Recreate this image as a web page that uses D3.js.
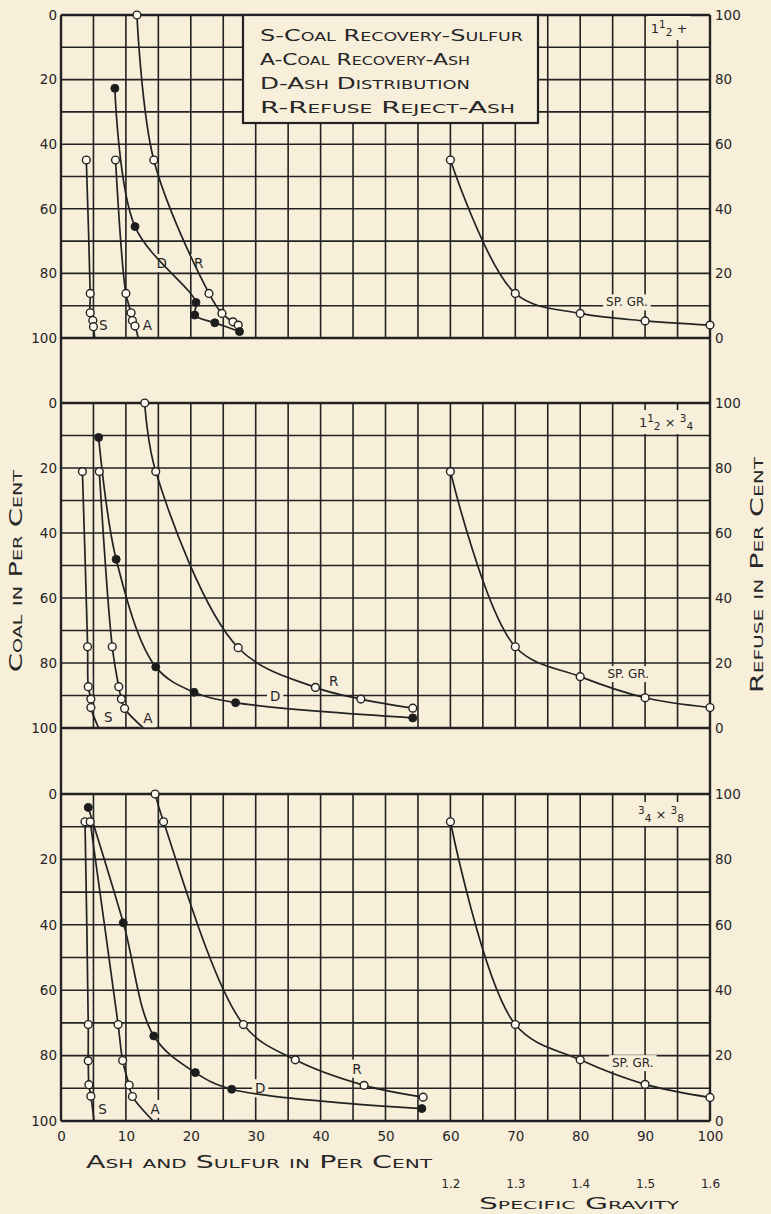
<!DOCTYPE html>
<html><head><meta charset="utf-8">
<script src="https://cdn.jsdelivr.net/npm/d3@7"></script>
<style>
body{margin:0;background:#f8efdb}
text{font-family:"DejaVu Sans",sans-serif;fill:#262626}
.sc{font-variant:small-caps}
</style>
</head><body>
<svg id="c" width="771" height="1214"></svg>
<script>
// ---------------- DATA ----------------
const ashTicks = [0,10,20,30,40,50,60,70,80,90,100];
const coalTicks = [0,20,40,60,80,100];
const refuseTicks = [0,20,40,60,80,100];
const sgTicks = [1.2,1.3,1.4,1.5,1.6];
const legendLines = ["S-Coal Recovery-Sulfur","A-Coal Recovery-Ash","D-Ash Distribution","R-Refuse Reject-Ash"];

// Panel 1 : 1½" +     [ash or sulfur %, coal %]
const p1S = [[3.9,44.9],[4.5,86.2],[4.5,92.2],[4.9,94.6],[5.0,96.5],[5.2,100]];
const p1A = [[8.4,44.9],[10.0,86.2],[10.8,92.2],[11.0,94.6],[11.4,96.3],[11.9,100]];
const p1D = [[8.3,22.7],[11.4,65.5],[20.8,89.0],[20.6,92.9],[23.7,95.3],[27.5,98.0]];
const p1R = [[11.7,0],[14.3,44.9],[22.8,86.2],[24.8,92.4],[26.5,95.0],[27.3,96.0]];
const p1SG = [55.1,13.8,7.6,5.3,4.0];   // refuse % at sg 1.2..1.6

// Panel 2 : 1½" x ¾"
const p2S = [[3.3,21.1],[4.1,75.0],[4.2,87.3],[4.6,91.1],[4.6,93.7],[5.8,100]];
const p2A = [[5.9,21.1],[7.9,75.0],[8.9,87.3],[9.3,91.1],[9.8,94.0],[12.7,100]];
const p2D = [[5.8,10.6],[8.5,48.1],[14.6,81.2],[20.5,89.0],[26.9,92.2],[54.2,96.9]];
const p2R = [[12.9,0],[14.6,21.1],[27.3,75.3],[39.2,87.5],[46.2,91.1],[54.2,93.9]];
const p2SG = [78.9,25.0,15.8,9.3,6.3];

// Panel 3 : ¾" x ⅜"
const p3S = [[3.7,8.5],[4.2,70.5],[4.2,81.6],[4.3,88.9],[4.6,92.4],[5.1,100]];
const p3A = [[4.5,8.5],[8.8,70.5],[9.5,81.5],[10.5,89.0],[11.0,92.5],[14.2,100]];
const p3D = [[4.2,4.1],[9.6,39.4],[14.3,74.0],[20.7,85.2],[26.3,90.3],[55.6,96.2]];
const p3R = [[14.5,0],[15.8,8.5],[28.1,70.5],[36.1,81.3],[46.7,89.1],[55.8,92.7]];
const p3SG = [91.5,29.5,18.7,11.2,7.2];

// size titles: [text, shift] shift -1 = superscript, 1 = subscript
const p1Title = [["1",0],["1",-1],["2",1],[" +",0]];
const p2Title = [["1",0],["1",-1],["2",1],[" × ",0],["3",-1],["4",1]];
const p3Title = [["3",-1],["4",1],[" × ",0],["3",-1],["8",1]];

// curve label anchors [ash %, coal %]
const p1Labels = {S:[6.5,96],A:[13.3,96],D:[15.5,76.8],R:[21.2,76.8],SG:[87.2,11]};
const p2Labels = {S:[7.3,96.5],A:[13.4,97],D:[33,90],R:[42,85.6],SG:[87.4,16.6]};
const p3Labels = {S:[6.4,96.3],A:[14.5,96.3],D:[30.7,90],R:[45.6,84],SG:[88.1,17.7]};

// ---------------- DRAW ----------------
const BG = "#f8efdb", INK = "#222";
const svg = d3.select("#c");
svg.append("rect").attr("width",771).attr("height",1214).attr("fill",BG);

const x = d3.scaleLinear().domain([0,100]).range([61,710]);
const sg = d3.scaleLinear().domain([1.2,1.6]).range([x(60),x(100)]);

const panels = [
  {top:15, bottom:338, S:p1S, A:p1A, D:p1D, R:p1R, SG:p1SG, title:p1Title, tpos:[669,28], lab:p1Labels},
  {top:403,bottom:728, S:p2S, A:p2A, D:p2D, R:p2R, SG:p2SG, title:p2Title, tpos:[666,422], lab:p2Labels},
  {top:794,bottom:1121,S:p3S, A:p3A, D:p3D, R:p3R, SG:p3SG, title:p3Title, tpos:[661,814], lab:p3Labels}
];

// outer continuous frame sides
svg.append("line").attr("x1",x(0)).attr("x2",x(0)).attr("y1",15).attr("y2",1121).attr("stroke",INK).attr("stroke-width",2.4);
svg.append("line").attr("x1",x(100)).attr("x2",x(100)).attr("y1",15).attr("y2",1121).attr("stroke",INK).attr("stroke-width",2.4);

function bgLabel(g, px, py, txt, size, cls){
  const t = g.append("text").attr("x",px).attr("y",py).attr("text-anchor","middle")
    .attr("dominant-baseline","central").attr("font-size",size).attr("class",cls||null).text(txt);
  const b = t.node().getBBox();
  g.insert("rect","text").attr("x",b.x-3).attr("y",b.y-1).attr("width",b.width+6).attr("height",b.height+2).attr("fill",BG);
  return t;
}

panels.forEach((p,i)=>{
  const g = svg.append("g");
  const y = d3.scaleLinear().domain([0,100]).range([p.top,p.bottom]);
  const yr = d3.scaleLinear().domain([0,100]).range([p.bottom,p.top]);

  // grid
  const grid = g.append("g");
  grid.selectAll("line.v").data(d3.range(5,100,5)).join("line").attr("class","v")
    .attr("x1",d=>x(d)).attr("x2",d=>x(d)).attr("y1",p.top).attr("y2",p.bottom)
    .attr("stroke",INK).attr("stroke-width",1.6);
  grid.selectAll("line.h").data(d3.range(10,100,10)).join("line").attr("class","h")
    .attr("x1",x(0)).attr("x2",x(100)).attr("y1",d=>y(d)).attr("y2",d=>y(d))
    .attr("stroke",INK).attr("stroke-width",1.6);
  grid.selectAll("line.b").data([0,100]).join("line").attr("class","b")
    .attr("x1",x(0)).attr("x2",x(100)).attr("y1",d=>y(d)).attr("y2",d=>y(d))
    .attr("stroke",INK).attr("stroke-width",2.6);

  // axes labels (left coal, right refuse)
  const la = g.append("g").attr("transform",`translate(${x(0)-4},0)`)
    .call(d3.axisLeft(y).tickValues(coalTicks).tickSize(0).tickPadding(0));
  const ra = g.append("g").attr("transform",`translate(${x(100)+5},0)`)
    .call(d3.axisRight(yr).tickValues(refuseTicks).tickSize(0).tickPadding(0));
  [la,ra].forEach(a=>{a.select(".domain").remove();
    a.selectAll("text").attr("font-size",13.5).attr("font-family","DejaVu Sans").attr("fill","#262626");});

  // labels with background masks
  const lg = g.append("g");
  const L = p.lab;
  ["S","A","D","R"].forEach(k=>{
    bgLabel(lg, x(L[k][0]), y(L[k][1]), k, 13.5, "sc");
  });
  bgLabel(lg, x(L.SG[0]), yr(L.SG[1]), "SP. GR.", 12);

  // panel title
  const tt = lg.append("text").attr("x",p.tpos[0]).attr("y",p.tpos[1]).attr("text-anchor","middle")
    .attr("dominant-baseline","central").attr("font-size",13);
  let prev = 0;
  p.title.forEach(([s,sh])=>{
    const dy = (sh-prev)*4;
    tt.append("tspan").attr("dy",dy).attr("font-size",sh===0?13:10.5).text(s);
    prev = sh;
  });
  const tb = tt.node().getBBox();
  lg.insert("rect","text").attr("x",tb.x-3).attr("y",tb.y-2).attr("width",tb.width+6).attr("height",tb.height+4).attr("fill",BG);

  // curves
  const line = d3.line().x(d=>x(d[0])).y(d=>y(d[1])).curve(d3.curveCatmullRom.alpha(0.5));
  const cg = g.append("g").attr("fill","none").attr("stroke",INK).attr("stroke-width",1.7);
  ["S","A","D","R"].forEach(k=>cg.append("path").attr("d",line(p[k])));
  const sgData = sgTicks.map((s,j)=>[s,p.SG[j]]);
  const sgLine = d3.line().x(d=>sg(d[0])).y(d=>yr(d[1])).curve(d3.curveCatmullRom.alpha(0.5));
  cg.append("path").attr("d",sgLine(sgData));

  // markers
  const mg = g.append("g");
  const openPts = [...p.S.slice(0,-1), ...p.A.slice(0,-1), ...p.R];
  mg.selectAll("circle.o").data(openPts).join("circle").attr("class","o")
    .attr("cx",d=>x(d[0])).attr("cy",d=>y(d[1])).attr("r",3.9)
    .attr("fill","#fffaf0").attr("stroke",INK).attr("stroke-width",1.4);
  mg.selectAll("circle.f").data(p.D).join("circle").attr("class","f")
    .attr("cx",d=>x(d[0])).attr("cy",d=>y(d[1])).attr("r",4)
    .attr("fill","#1c1c1c").attr("stroke",INK).attr("stroke-width",1);
  mg.selectAll("circle.s").data(sgData).join("circle").attr("class","s")
    .attr("cx",d=>sg(d[0])).attr("cy",d=>yr(d[1])).attr("r",3.9)
    .attr("fill","#fffaf0").attr("stroke",INK).attr("stroke-width",1.4);

  // legend in first panel
  if(i===0){
    const lgd = g.append("g");
    lgd.append("rect").attr("x",243).attr("y",p.top).attr("width",295).attr("height",108)
      .attr("fill",BG).attr("stroke",INK).attr("stroke-width",2.2);
    const lens = [263,210,210,255];
    legendLines.forEach((s,j)=>{
      lgd.append("text").attr("class","sc").attr("x",260).attr("y",41+j*24).attr("font-size",16.5)
        .attr("textLength",lens[j]).attr("lengthAdjust","spacingAndGlyphs").text(s);
    });
  }
});

// bottom axes
const ba = svg.append("g").attr("transform","translate(0,1131)")
  .call(d3.axisBottom(x).tickValues(ashTicks).tickSize(0).tickPadding(0));
ba.select(".domain").remove();
ba.selectAll("text").attr("font-size",13.5).attr("font-family","DejaVu Sans").attr("fill","#262626");

const sa = svg.append("g").attr("transform","translate(0,1179)")
  .call(d3.axisBottom(sg).tickValues(sgTicks).tickSize(0).tickPadding(0).tickFormat(d3.format(".1f")));
sa.select(".domain").remove();
sa.selectAll("text").attr("font-size",12).attr("font-family","DejaVu Sans").attr("fill","#262626");

svg.append("text").attr("class","sc").attr("x",86).attr("y",1168).attr("font-size",17)
  .attr("textLength",346).attr("lengthAdjust","spacingAndGlyphs").text("Ash and Sulfur in Per Cent");
svg.append("text").attr("class","sc").attr("x",479).attr("y",1209).attr("font-size",16)
  .attr("textLength",200).attr("lengthAdjust","spacingAndGlyphs").text("Specific Gravity");
svg.append("text").attr("class","sc").attr("transform","translate(22,672) rotate(-90)").attr("font-size",17)
  .attr("textLength",202).attr("lengthAdjust","spacingAndGlyphs").text("Coal in Per Cent");
svg.append("text").attr("class","sc").attr("transform","translate(763,693) rotate(-90)").attr("font-size",17)
  .attr("textLength",236).attr("lengthAdjust","spacingAndGlyphs").text("Refuse in Per Cent");
</script>
</body></html>
